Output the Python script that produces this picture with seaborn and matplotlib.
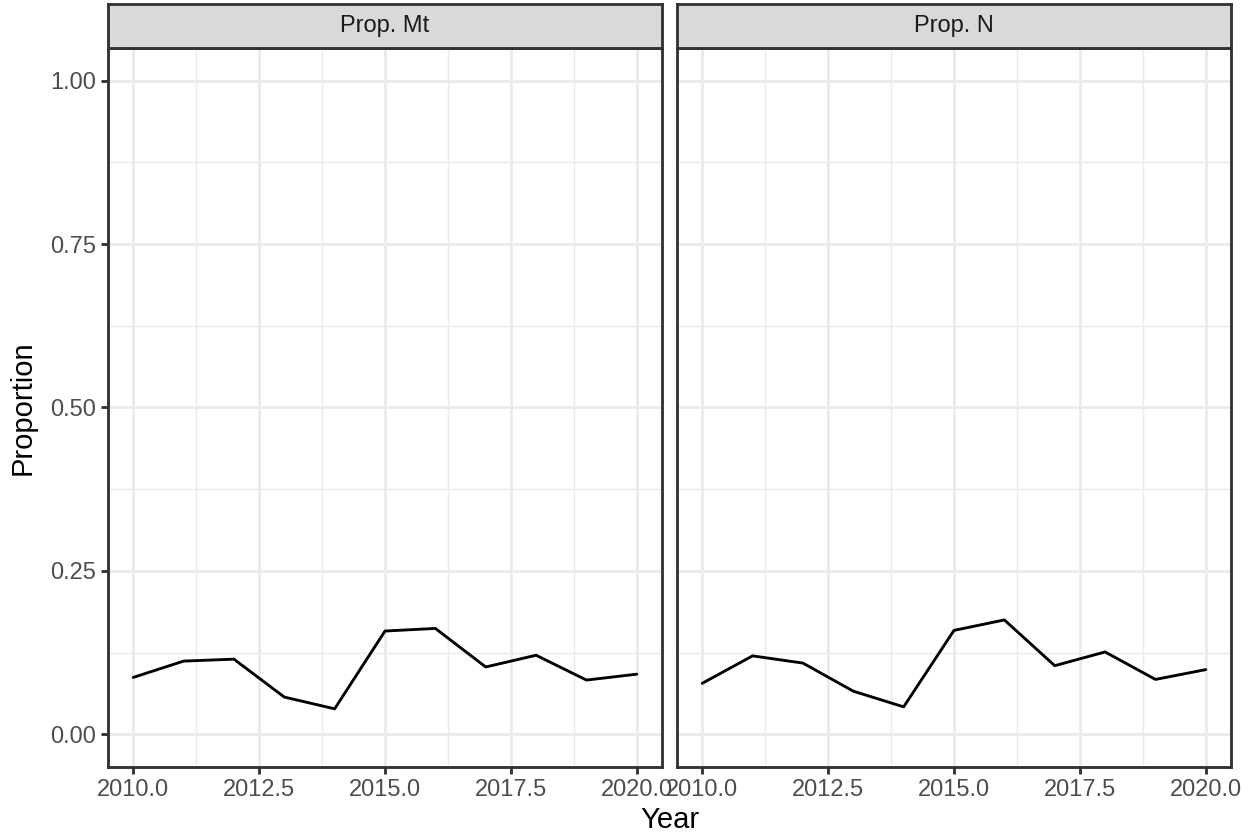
import matplotlib
matplotlib.use("Agg")
import matplotlib.pyplot as plt
import numpy as np
import pandas as pd
import seaborn as sns

# Yearly proportions for the two measures
years = [2010, 2011, 2012, 2013, 2014, 2015, 2016, 2017, 2018, 2019, 2020]
prop_mt = [0.087, 0.112, 0.115, 0.057, 0.039, 0.158, 0.162, 0.103, 0.121, 0.083, 0.092]
prop_n = [0.078, 0.120, 0.109, 0.066, 0.042, 0.159, 0.175, 0.105, 0.126, 0.084, 0.099]
panel_labels = ["Prop. Mt", "Prop. N"]
y_ticks = [0.00, 0.25, 0.50, 0.75, 1.00]
x_ticks = [2010.0, 2012.5, 2015.0, 2017.5, 2020.0]

df = pd.concat([
    pd.DataFrame({"Year": years, "Proportion": prop_mt, "measure": panel_labels[0]}),
    pd.DataFrame({"Year": years, "Proportion": prop_n, "measure": panel_labels[1]}),
])

sns.set_theme(style="white")
plt.rcParams["font.family"] = ["Liberation Sans", "DejaVu Sans"]

W, H = 1253, 835
fig = plt.figure(figsize=(W / 100, H / 100), dpi=100)

grey20 = "#333333"
grey30 = "#4D4D4D"
grid_col = "#EBEBEB"
LW = 2.06
TICK_FS = 17
TITLE_FS = 21

panels_x = [(108, 662), (677, 1231)]
top_px, bottom_px, strip_top_px = 48, 767, 4

for i, (x0, x1) in enumerate(panels_x):
    ax = fig.add_axes([x0 / W, (H - bottom_px) / H, (x1 - x0) / W, (bottom_px - top_px) / H])
    sub = df[df["measure"] == panel_labels[i]]
    sns.lineplot(data=sub, x="Year", y="Proportion", ax=ax, color="black", linewidth=LW)
    ax.set_xlim(2009.5, 2020.5)
    ax.set_ylim(-0.05, 1.05)
    ax.set_xticks(x_ticks)
    ax.set_xticklabels([f"{t:.1f}" for t in x_ticks])
    ax.set_yticks(y_ticks)
    ax.set_xticks([2011.25, 2013.75, 2016.25, 2018.75], minor=True)
    ax.set_yticks([0.125, 0.375, 0.625, 0.875], minor=True)
    ax.grid(True, which="major", color=grid_col, linewidth=LW)
    ax.grid(True, which="minor", color=grid_col, linewidth=LW / 2)
    ax.set_axisbelow(True)
    for s in ax.spines.values():
        s.set_color(grey20)
        s.set_linewidth(LW)
    ax.tick_params(axis="both", which="major", length=5.3, width=LW, color=grey20,
                   labelsize=TICK_FS, labelcolor=grey30, pad=3.5, direction="out",
                   bottom=True, left=True)
    ax.tick_params(axis="both", which="minor", length=0)
    ax.set_xlabel("")
    ax.set_ylabel("")
    if i == 0:
        ax.set_yticklabels([f"{t:.2f}" for t in y_ticks])
    else:
        ax.set_yticklabels([])
        ax.tick_params(axis="y", which="major", length=0)

    # facet strip
    sax = fig.add_axes([x0 / W, (H - top_px) / H, (x1 - x0) / W, (top_px - strip_top_px) / H])
    sax.set_facecolor("#D9D9D9")
    sax.set_xticks([])
    sax.set_yticks([])
    for s in sax.spines.values():
        s.set_color(grey20)
        s.set_linewidth(LW)
    sax.text(0.5, 0.5, panel_labels[i], ha="center", va="center",
             fontsize=TICK_FS, color="#1A1A1A", transform=sax.transAxes)

fig.text((108 + 1231) / 2 / W, 7 / H, "Year", ha="center", va="baseline",
         fontsize=TITLE_FS, color="black")
fig.text(23 / W, (H - (top_px + bottom_px) / 2) / H, "Proportion", ha="center",
         va="center", rotation=90, fontsize=TITLE_FS, color="black")

fig.savefig("out.png", dpi=100)
